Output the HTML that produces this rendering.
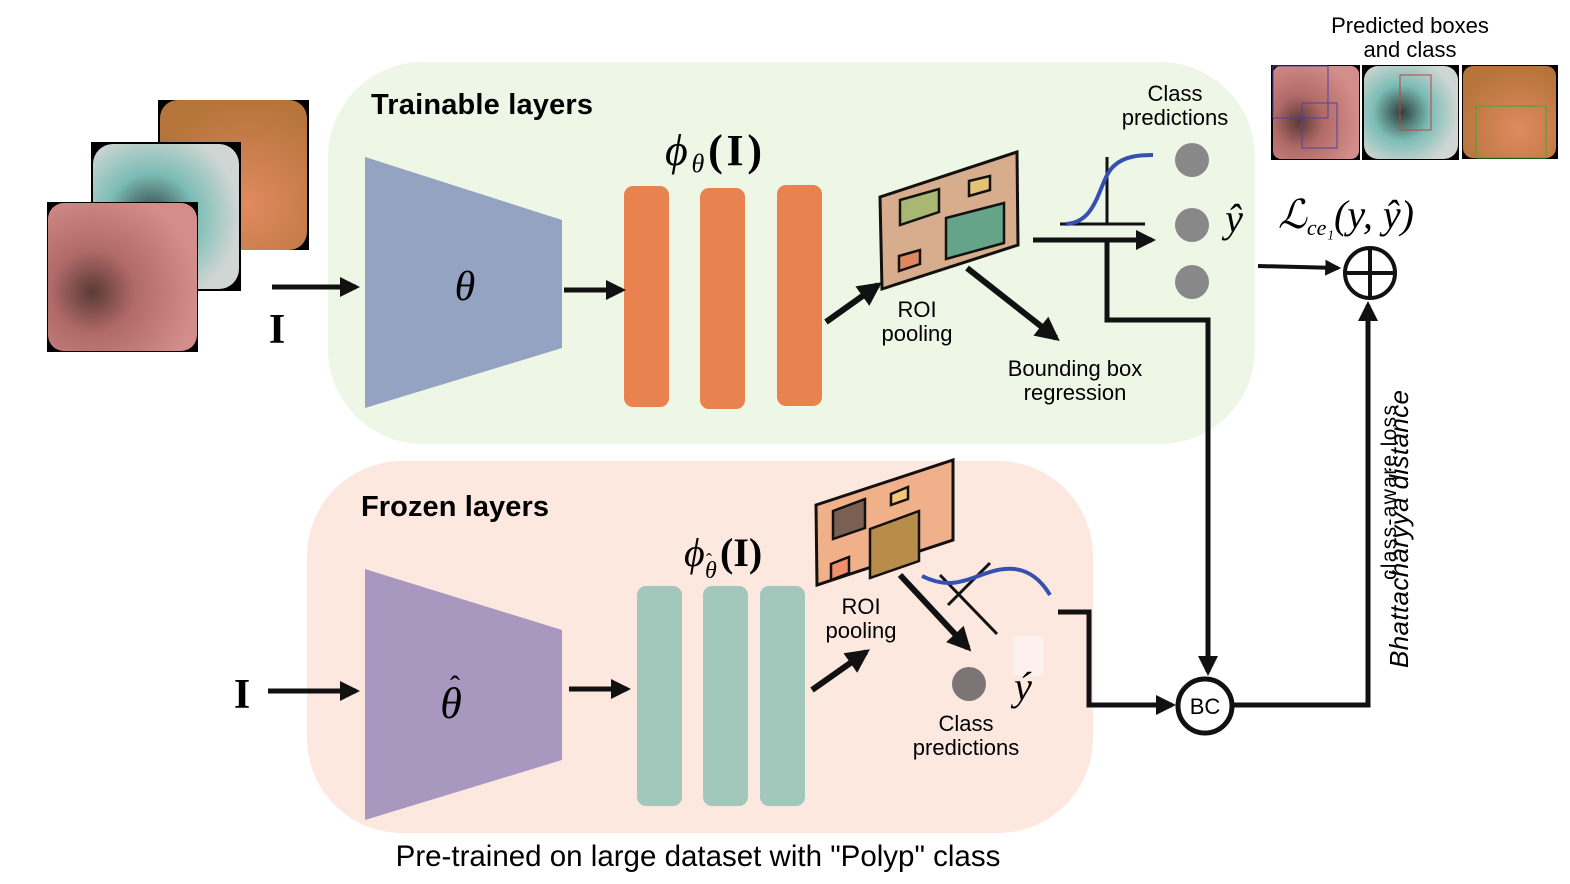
<!DOCTYPE html>
<html><head><meta charset="utf-8"><style>
html,body{margin:0;padding:0;background:#fff;}
svg{display:block;}
.s{font-family:"Liberation Sans",sans-serif;}
.m{font-family:"Liberation Serif",serif;font-style:italic;}
</style></head><body>
<svg width="1570" height="884" viewBox="0 0 1570 884" xmlns="http://www.w3.org/2000/svg">
<defs>
<marker id="ah" viewBox="0 0 10 10" refX="8" refY="5" markerWidth="4" markerHeight="4" orient="auto-start-reverse"><path d="M0,0 L10,5 L0,10 z" fill="#111"/></marker>
<radialGradient id="p1" cx="0.6" cy="0.7" r="0.7"><stop offset="0" stop-color="#e08a60"/><stop offset="1" stop-color="#b5743a"/></radialGradient>
<radialGradient id="p2" cx="0.4" cy="0.5" r="0.6"><stop offset="0" stop-color="#2f3f3c"/><stop offset="0.5" stop-color="#7bbdb5"/><stop offset="1" stop-color="#cfd6d3"/></radialGradient>
<radialGradient id="p3" cx="0.3" cy="0.6" r="0.7"><stop offset="0" stop-color="#5a3a36"/><stop offset="0.4" stop-color="#b06a68"/><stop offset="1" stop-color="#d38d8a"/></radialGradient>
</defs>
<rect x="328" y="62" width="927" height="382" rx="95" fill="#eef6e6"/>
<rect x="307" y="461" width="786" height="372" rx="95" fill="#fde8e0"/>
<rect x="158" y="100" width="151" height="150" fill="#000"/>
<rect x="160" y="100" width="147" height="150" rx="18" fill="url(#p1)"/>
<rect x="91" y="142" width="150" height="149" fill="#000"/>
<rect x="93" y="144" width="146" height="145" rx="20" fill="url(#p2)"/>
<rect x="47" y="202" width="151" height="150" fill="#000"/>
<rect x="48" y="203" width="149" height="148" rx="16" fill="url(#p3)"/>
<rect x="1271" y="65" width="89" height="95" fill="#000"/>
<rect x="1273" y="66" width="86" height="93" rx="8" fill="url(#p3)"/>
<rect x="1273" y="66" width="55" height="52" fill="none" stroke="#5040a0"/>
<rect x="1302" y="103" width="35" height="45" fill="none" stroke="#5040a0"/>
<rect x="1362" y="65" width="97" height="95" fill="#000"/>
<rect x="1364" y="66" width="94" height="93" rx="14" fill="url(#p2)"/>
<rect x="1400" y="75" width="31" height="55" fill="none" stroke="#c04040"/>
<rect x="1462" y="65" width="96" height="94" fill="#000"/>
<rect x="1463" y="66" width="93" height="92" rx="10" fill="url(#p1)"/>
<rect x="1476" y="106" width="70" height="52" fill="none" stroke="#30b030"/>
<text x="1410" y="33" font-size="22" text-anchor="middle" class="s">Predicted boxes</text>
<text x="1410" y="57" font-size="22" text-anchor="middle" class="s">and class</text>
<text x="371" y="114" font-size="29" font-weight="bold" class="s" textLength="222">Trainable layers</text>
<polygon points="365,157 562,220 562,348 365,408" fill="#93a3c1"/>
<text x="465" y="300" font-size="42" text-anchor="middle" class="m">θ</text>
<text x="665" y="165" font-size="44" class="m" textLength="97">ϕ<tspan font-size="26" dy="7">θ</tspan><tspan dy="-7" font-style="normal" font-weight="bold">(I)</tspan></text>
<rect x="624" y="186" width="45" height="221" rx="9" fill="#e8834f"/>
<rect x="700" y="188" width="45" height="221" rx="9" fill="#e8834f"/>
<rect x="777" y="185" width="45" height="221" rx="9" fill="#e8834f"/>
<text x="277" y="343" font-size="42" text-anchor="middle" font-weight="bold" font-family="Liberation Serif,serif">I</text>
<line x1="272" y1="287" x2="356" y2="287" stroke="#111" stroke-width="5" marker-end="url(#ah)"/>
<line x1="564" y1="290" x2="622" y2="290" stroke="#111" stroke-width="5" marker-end="url(#ah)"/>
<line x1="826" y1="322" x2="878" y2="285" stroke="#111" stroke-width="6" marker-end="url(#ah)"/>
<polygon points="880,197 1017,152 1018,245 882,289" fill="#d7ad8e" stroke="#111" stroke-width="3"/>
<polygon points="900,200 939,189 939,212 900,225" fill="#a8b873" stroke="#111" stroke-width="2.5"/>
<polygon points="969,181 990,176 990,190 969,196" fill="#e6c275" stroke="#111" stroke-width="2.5"/>
<polygon points="946,218 1004,203 1004,243 946,259" fill="#66a48a" stroke="#111" stroke-width="2.5"/>
<polygon points="899,256 920,250 920,264 899,271" fill="#e08762" stroke="#111" stroke-width="2.5"/>
<text x="917" y="317" font-size="22" text-anchor="middle" class="s">ROI</text>
<text x="917" y="341" font-size="22" text-anchor="middle" class="s">pooling</text>
<line x1="967" y1="268" x2="1056" y2="338" stroke="#111" stroke-width="6" marker-end="url(#ah)"/>
<text x="1075" y="376" font-size="22" text-anchor="middle" class="s">Bounding box</text>
<text x="1075" y="400" font-size="22" text-anchor="middle" class="s">regression</text>
<line x1="1107" y1="157" x2="1107" y2="224" stroke="#111" stroke-width="3"/>
<line x1="1060" y1="224" x2="1145" y2="224" stroke="#111" stroke-width="3"/>
<path d="M1066,224 C1100,222 1098,178 1115,165 C1125,156 1140,155 1153,155" fill="none" stroke="#3550b0" stroke-width="4"/>
<line x1="1033" y1="240" x2="1152" y2="240" stroke="#111" stroke-width="5" marker-end="url(#ah)"/>
<circle cx="1192" cy="160" r="17" fill="#888"/>
<circle cx="1192" cy="225" r="17" fill="#888"/>
<circle cx="1192" cy="282" r="17" fill="#888"/>
<text x="1175" y="101" font-size="22" text-anchor="middle" class="s">Class</text>
<text x="1175" y="125" font-size="22" text-anchor="middle" class="s">predictions</text>
<text x="1234" y="232" font-size="40" text-anchor="middle" class="m">ŷ</text>
<polyline points="1107,240 1107,320 1208,320 1208,672" fill="none" stroke="#111" stroke-width="5" marker-end="url(#ah)"/>
<text x="1278" y="228" font-size="40" class="m">ℒ<tspan font-size="22" dy="7">ce₁</tspan><tspan dy="-7">(y, ŷ)</tspan></text>
<line x1="1258" y1="266" x2="1338" y2="268" stroke="#111" stroke-width="4" marker-end="url(#ah)"/>
<circle cx="1370" cy="273" r="25" fill="none" stroke="#111" stroke-width="4"/>
<line x1="1345" y1="273" x2="1395" y2="273" stroke="#111" stroke-width="4"/>
<line x1="1370" y1="248" x2="1370" y2="298" stroke="#111" stroke-width="4"/>
<text x="361" y="516" font-size="29" font-weight="bold" class="s" textLength="188">Frozen layers</text>
<polygon points="365,569 562,630 562,760 365,820" fill="#a898bf"/>
<text x="451" y="718" font-size="44" text-anchor="middle" class="m">θ</text>
<text x="455" y="696" font-size="30" text-anchor="middle" font-family="Liberation Serif,serif">ˆ</text>
<text x="684" y="566" font-size="40" class="m">ϕ</text>
<text x="705" y="578" font-size="24" class="m">θ</text>
<text x="706" y="566" font-size="18" font-family="Liberation Serif,serif">ˆ</text>
<text x="720" y="566" font-size="40" font-weight="bold" font-family="Liberation Serif,serif">(I)</text>
<rect x="637" y="586" width="45" height="220" rx="9" fill="#a1c8bb"/>
<rect x="703" y="586" width="45" height="220" rx="9" fill="#a1c8bb"/>
<rect x="760" y="586" width="45" height="220" rx="9" fill="#a1c8bb"/>
<text x="242" y="708" font-size="42" text-anchor="middle" font-weight="bold" font-family="Liberation Serif,serif">I</text>
<line x1="268" y1="691" x2="356" y2="691" stroke="#111" stroke-width="5" marker-end="url(#ah)"/>
<line x1="569" y1="689" x2="627" y2="689" stroke="#111" stroke-width="5" marker-end="url(#ah)"/>
<line x1="812" y1="690" x2="866" y2="652" stroke="#111" stroke-width="6" marker-end="url(#ah)"/>
<polygon points="816,505 953,460 953,540 817,585" fill="#f0b08a" stroke="#111" stroke-width="3"/>
<polygon points="833,511 865,499 865,528 833,539" fill="#7a6052" stroke="#111" stroke-width="2.5"/>
<polygon points="891,494 908,487 908,499 891,505" fill="#f2c877" stroke="#111" stroke-width="2.5"/>
<polygon points="870,529 919,511 919,561 870,578" fill="#b88c4a" stroke="#111" stroke-width="2.5"/>
<polygon points="831,564 849,557 849,573 831,580" fill="#f08e6e" stroke="#111" stroke-width="2.5"/>
<text x="861" y="614" font-size="22" text-anchor="middle" class="s">ROI</text>
<text x="861" y="638" font-size="22" text-anchor="middle" class="s">pooling</text>
<line x1="900" y1="575" x2="968" y2="648" stroke="#111" stroke-width="6" marker-end="url(#ah)"/>
<line x1="940" y1="575" x2="997" y2="634" stroke="#111" stroke-width="3"/>
<line x1="948" y1="605" x2="990" y2="563" stroke="#111" stroke-width="3"/>
<path d="M922,576 C950,590 965,580 990,572 C1015,564 1035,570 1050,595" fill="none" stroke="#3550b0" stroke-width="4"/>
<rect x="1013" y="636" width="30" height="40" fill="#fdf0ee"/>
<circle cx="969" cy="684" r="17" fill="#7d7575"/>
<text x="1023" y="700" font-size="40" text-anchor="middle" class="m">ý</text>
<text x="966" y="731" font-size="22" text-anchor="middle" class="s">Class</text>
<text x="966" y="755" font-size="22" text-anchor="middle" class="s">predictions</text>
<polyline points="1058,612 1089,612 1089,705 1172,705" fill="none" stroke="#111" stroke-width="5" marker-end="url(#ah)"/>
<circle cx="1205" cy="706" r="27" fill="none" stroke="#111" stroke-width="5"/>
<text x="1205" y="714" font-size="22" text-anchor="middle" class="s">BC</text>
<polyline points="1232,705 1368,705 1368,305" fill="none" stroke="#111" stroke-width="5" marker-end="url(#ah)"/>
<text transform="translate(1408,668) rotate(-90)" font-size="26" font-style="italic" class="s" textLength="278">Bhattacharyya distance</text>
<text transform="translate(1396,580) rotate(-90)" font-size="21" class="s" textLength="175">class-aware loss</text>
<text x="698" y="866" font-size="29.5" text-anchor="middle" class="s">Pre-trained on large dataset with "Polyp" class</text>
</svg>
</body></html>
